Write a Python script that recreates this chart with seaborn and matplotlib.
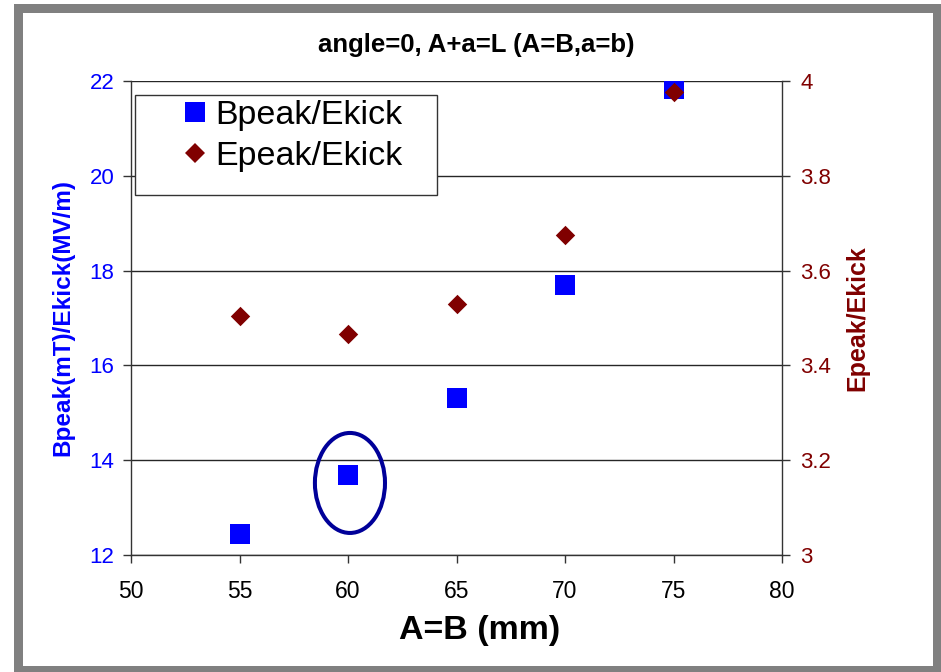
import matplotlib
matplotlib.use('Agg')
import matplotlib.pyplot as plt
import seaborn as sns
import pandas as pd
from matplotlib.patches import Rectangle, Ellipse
from matplotlib.lines import Line2D

# ---- data ----
ab_mm = [55, 60, 65, 70, 75]
bpeak_ekick = [12.44, 13.69, 15.31, 17.70, 21.83]
epeak_ekick = [3.504, 3.466, 3.530, 3.675, 3.977]
x_ticks = [50, 55, 60, 65, 70, 75, 80]
left_ticks = [12, 14, 16, 18, 20, 22]
right_ticks = [3.0, 3.2, 3.4, 3.6, 3.8, 4.0]
right_tick_labels = ['3', '3.2', '3.4', '3.6', '3.8', '4']
series_names = ['Bpeak/Ekick', 'Epeak/Ekick']
title_text = 'angle=0, A+a=L (A=B,a=b)'

BLUE = '#0000FF'
DRED = '#800000'
GRID = '#262626'

sns.set_style('white')
plt.rcParams['font.family'] = ['Liberation Sans', 'DejaVu Sans']
plt.rcParams['text.color'] = 'black'

W, H = 941, 672
fig = plt.figure(figsize=(W / 100, H / 100), dpi=100)
fig.patch.set_facecolor('white')

# gray outer frame
fig.patches.append(Rectangle((14 / W, 0), 1 - 14 / W, 1 - 4 / H, transform=fig.transFigure,
                             facecolor='#808080', edgecolor='none', zorder=-10))
fig.patches.append(Rectangle((23 / W, 6 / H), 910 / W, 653 / H, transform=fig.transFigure,
                             facecolor='white', edgecolor='none', zorder=-9))

L, R, T, B = 131, 782, 81, 555
ax = fig.add_axes([L / W, 1 - B / H, (R - L) / W, (B - T) / H])
ax.patch.set_alpha(0)

df = pd.DataFrame({'ab': ab_mm, 'b': bpeak_ekick, 'e': epeak_ekick})

sns.scatterplot(data=df, x='ab', y='b', marker='s', s=207, color=BLUE,
                linewidth=0, ax=ax, zorder=3, legend=False)
ax.set_xlim(50, 80)
ax.set_ylim(12, 22)
ax.set_xticks(x_ticks)
ax.set_yticks(left_ticks)
ax.yaxis.grid(True, color=GRID, lw=1.0)
ax.xaxis.grid(False)
ax.set_axisbelow(True)

for s in ['top', 'right']:
    ax.spines[s].set_visible(False)
for s in ['left', 'bottom']:
    ax.spines[s].set_color('#333333')
    ax.spines[s].set_linewidth(1.0)

ax.tick_params(axis='y', direction='out', length=6, width=1, color='#333333',
               labelcolor=BLUE, labelsize=16, pad=6, left=True)
ax.tick_params(axis='x', direction='out', length=6, width=1, color='#333333',
               labelcolor='black', labelsize=16.5, pad=12, bottom=True)

ax.set_xlabel('A=B (mm)', fontsize=24.5, fontweight='bold', color='black')
ax.xaxis.label.set_verticalalignment('center')
ax.xaxis.set_label_coords((480 - L) / (R - L), (B - 630) / (B - T))
ax.set_ylabel('Bpeak(mT)/Ekick(MV/m)', fontsize=17.5, fontweight='bold', color=BLUE)
ax.yaxis.label.set_verticalalignment('center')
ax.yaxis.set_label_coords((63 - L) / (R - L), 0.5)

# highlight ellipse around the 60 mm point
ax.add_patch(Ellipse((60.09, 13.52), width=3.23, height=2.11, fill=False,
                     edgecolor='#000099', lw=2.9, zorder=4))

ax2 = ax.twinx()
sns.scatterplot(data=df, x='ab', y='e', marker='D', s=98, color=DRED,
                linewidth=0, ax=ax2, zorder=3, legend=False)
ax2.set_ylim(3, 4)
ax2.set_yticks(right_ticks)
ax2.set_yticklabels(right_tick_labels)
for s in ['top', 'left', 'bottom']:
    ax2.spines[s].set_visible(False)
ax2.spines['right'].set_color('#333333')
ax2.spines['right'].set_linewidth(1.0)
ax2.tick_params(axis='y', direction='out', length=6, width=1, color='#333333',
                labelcolor=DRED, labelsize=16, pad=7, right=True)
ax2.set_ylabel('Epeak/Ekick', fontsize=18, fontweight='bold', color=DRED)
ax2.yaxis.label.set_verticalalignment('center')
ax2.yaxis.set_label_coords((857 - L) / (R - L), 0.5)
ax2.grid(False)

# title
fig.text(476 / W, 1 - 45 / H, title_text, ha='center', va='center',
         fontsize=18.5, fontweight='bold', color='black')

# legend box + legend
fig.patches.append(Rectangle((135 / W, 1 - 195 / H), (437 - 135) / W, (195 - 95) / H,
                             transform=fig.transFigure, facecolor='white',
                             edgecolor='#333333', lw=1.0, zorder=5))
handles = [Line2D([], [], marker='s', ls='', color=BLUE, markersize=14.4, markeredgewidth=0),
           Line2D([], [], marker='D', ls='', color=DRED, markersize=10, markeredgewidth=0)]
leg = fig.legend(handles, series_names, loc='upper left',
                 bbox_to_anchor=(178 / W, 1 - 100 / H), bbox_transform=fig.transFigure,
                 frameon=False, fontsize=24.5, borderpad=0, borderaxespad=0,
                 handlelength=1.0, handletextpad=0.1, labelspacing=0.3,
                 labelcolor='black')
leg.set_zorder(6)

fig.savefig('out.png', dpi=100, facecolor='white')
